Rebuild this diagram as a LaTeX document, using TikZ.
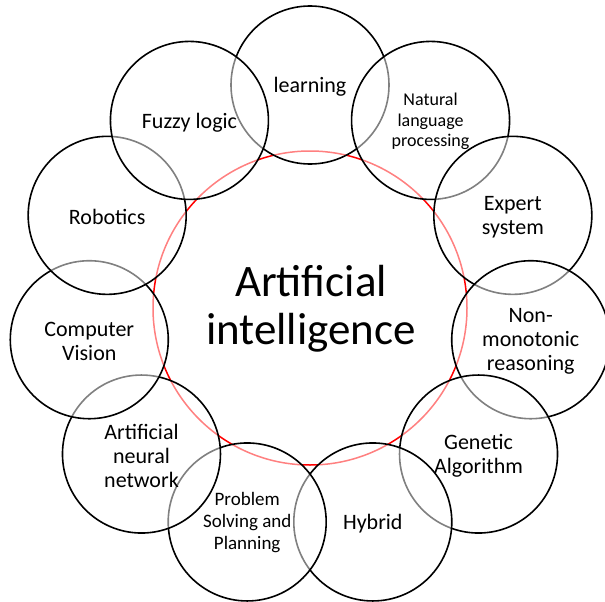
\documentclass[tikz,border=0pt]{standalone}
\usepackage{fontspec}
\setmainfont{Carlito}
\usetikzlibrary{calc}
\tikzset{
  outer/.style={circle, draw=black, line width=1.6pt, fill=white, fill opacity=0.5, draw opacity=1, minimum size=158pt, inner sep=0pt},
  core/.style={circle, draw=red, line width=1.5pt, minimum size=314pt, inner sep=0pt},
  lbl/.style={align=center, text=black, font=\fontsize{22}{24}\selectfont, inner sep=0pt, yshift=-2pt},
  smalllbl/.style={align=center, text=black, font=\fontsize{18}{20.5}\selectfont, inner sep=0pt, yshift=-1pt},
  biglbl/.style={align=center, text=black, font=\fontsize{45}{48}\selectfont, inner sep=0pt}
}
\begin{document}
\begin{tikzpicture}[x=1pt,y=1pt]
\useasboundingbox (0,0) rectangle (605,-602);
\coordinate (O) at (310,-308);
\node[core] (ai) at (O) {};
% outer circles, clockwise from top
\node[outer] (c1) at ($(O)+(90:223)$) {};
\node[outer] (c2) at ($(O)+(57.27:223)$) {};
\node[outer] (c3) at ($(O)+(24.55:223)$) {};
\node[outer] (c4) at ($(O)+(-8.18:223)$) {};
\node[outer] (c5) at ($(O)+(-40.91:223)$) {};
\node[outer] (c6) at ($(O)+(-73.64:223)$) {};
\node[outer] (c7) at ($(O)+(-106.36:223)$) {};
\node[outer] (c8) at ($(O)+(-139.09:223)$) {};
\node[outer] (c9) at ($(O)+(-171.82:223)$) {};
\node[outer] (c10) at ($(O)+(-204.55:223)$) {};
\node[outer] (c11) at ($(O)+(-237.27:223)$) {};
% labels
\node[biglbl] (tai) at ($(O)+(1,-1)$) {Artificial\\intelligence};
\node[lbl] (t1) at (c1) {learning};
\node[smalllbl] (t2) at (c2) {Natural\\language\\processing};
\node[lbl] (t3) at (c3) {Expert\\system};
\node[lbl] (t4) at (c4) {Non-\\monotonic\\reasoning};
\node[lbl] (t5) at (c5) {Genetic\\Algorithm};
\node[lbl] (t6) at (c6) {Hybrid};
\node[smalllbl, font=\fontsize{19}{22}\selectfont] (t7) at (c7) {Problem\\Solving and\\Planning};
\node[lbl] (t8) at (c8) {Artificial\\neural\\network};
\node[lbl] (t9) at (c9) {Computer\\Vision};
\node[lbl] (t10) at (c10) {Robotics};
\node[lbl] (t11) at (c11) {Fuzzy logic};
\end{tikzpicture}
\end{document}
